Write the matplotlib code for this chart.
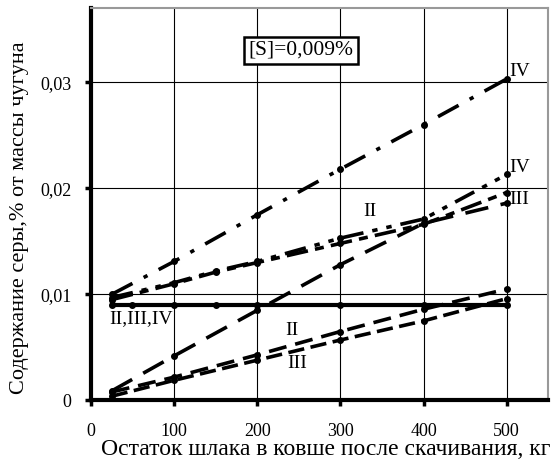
import matplotlib
matplotlib.use("Agg")
import matplotlib.pyplot as plt

# Data
x_iv_top = [25, 100, 200, 300, 400, 500]
y_iv_top = [0.0100, 0.0131, 0.0175, 0.0218, 0.0260, 0.0303]

x_up = [25, 100, 150, 200, 300, 400, 500]
y_iv_mid = [0.0097, 0.0111, 0.0122, 0.0131, 0.0153, 0.0171, 0.0213]
y_iii_up = [0.0095, 0.0110, 0.0121, 0.0130, 0.0148, 0.0166, 0.0196]

x_ii = [25, 100, 200, 300, 400, 500]
y_ii_up = [0.0009, 0.0042, 0.0085, 0.0128, 0.0167, 0.0186]

x_base = [25, 50, 100, 150, 200, 300, 400, 500]
y_base = [0.009] * len(x_base)

x_low = [25, 100, 200, 300, 400, 500]
y_ii_low = [0.0008, 0.0022, 0.0043, 0.0065, 0.0086, 0.0105]
y_iii_low = [0.0004, 0.0019, 0.0038, 0.0057, 0.0075, 0.0096]

x_ticks = [0, 100, 200, 300, 400, 500]
y_ticks = [0, 0.01, 0.02, 0.03]
y_ticklabels = ["0", "0,01", "0,02", "0,03"]

plt.rcParams['font.family'] = ['Liberation Serif', 'DejaVu Serif']

fig = plt.figure(figsize=(5.51, 4.63), dpi=100)
ax = fig.add_axes([0.165, 0.135, 0.830, 0.848])

ax.set_xlim(0, 550)
ax.set_ylim(0, 0.037)

for xv in x_ticks[1:]:
    ax.axvline(xv, color='black', lw=0.8, zorder=1)
for yv in y_ticks[1:]:
    ax.axhline(yv, color='black', lw=0.8, zorder=1)

lw = 2.6
ms = 4
ax.plot(x_iv_top, y_iv_top, color='black', lw=lw, dashes=(6.5, 3.5, 1.2, 3.5),
        marker='o', ms=ms, zorder=3)
ax.plot(x_up, y_iv_mid, color='black', lw=lw, dashes=(6, 2.5, 1.5, 2.5, 1.5, 2.5),
        marker='o', ms=ms, zorder=3)
ax.plot(x_up, y_iii_up, color='black', lw=lw, dashes=(6, 2.0, 2.5, 2.0),
        marker='o', ms=ms, zorder=3)
ax.plot(x_ii, y_ii_up, color='black', lw=lw, dashes=(6.5, 3.5),
        marker='o', ms=ms, zorder=3)
ax.plot(x_base, y_base, color='black', lw=3.0, marker='o', ms=ms, zorder=3)
ax.plot(x_low, y_ii_low, color='black', lw=lw, dashes=(5, 2.5),
        marker='o', ms=ms, zorder=3)
ax.plot(x_low, y_iii_low, color='black', lw=lw, dashes=(4.5, 1.8),
        marker='o', ms=ms, zorder=3)

fs = 14
ax.text(503, 0.0302, "IV", fontsize=fs, ha='left', va='bottom')
ax.text(503, 0.0212, "IV", fontsize=fs, ha='left', va='bottom')
ax.text(503, 0.0197, "III", fontsize=fs, ha='left', va='top')
ax.text(336, 0.0178, "II", fontsize=fs, ha='center', va='center')
ax.text(60, 0.0077, "II,III,IV", fontsize=fs, ha='center', va='center')
ax.text(242, 0.0066, "II", fontsize=fs, ha='center', va='center')
ax.text(248, 0.0035, "III", fontsize=fs, ha='center', va='center')

ax.text(253, 0.0330, "[S]=0,009%", fontsize=15.5, ha='center', va='center',
        bbox=dict(boxstyle='square,pad=0.2', fc='white', ec='black', lw=1.8), zorder=5)

ax.set_xticks(x_ticks)
ax.set_yticks(y_ticks)
ax.set_yticklabels(y_ticklabels)
ax.tick_params(axis='both', labelsize=13, length=4, width=2.5, color='black', direction='out')
ax.tick_params(axis='x', pad=12)
ax.tick_params(axis='y', pad=10)

ax.spines['left'].set_linewidth(3)
ax.spines['bottom'].set_linewidth(3)
ax.spines['top'].set_color('#999999')
ax.spines['right'].set_color('#999999')
ax.spines['top'].set_linewidth(1.5)
ax.spines['right'].set_linewidth(1.5)

fig.text(0.998, 0.030, "Остаток шлака в ковше после скачивания, кг", fontsize=17,
         ha='right', va='center')
fig.text(0.036, 0.53, "Содержание серы,% от массы чугуна", fontsize=16,
         ha='center', va='center', rotation=90)

fig.savefig("out.png", dpi=100)
